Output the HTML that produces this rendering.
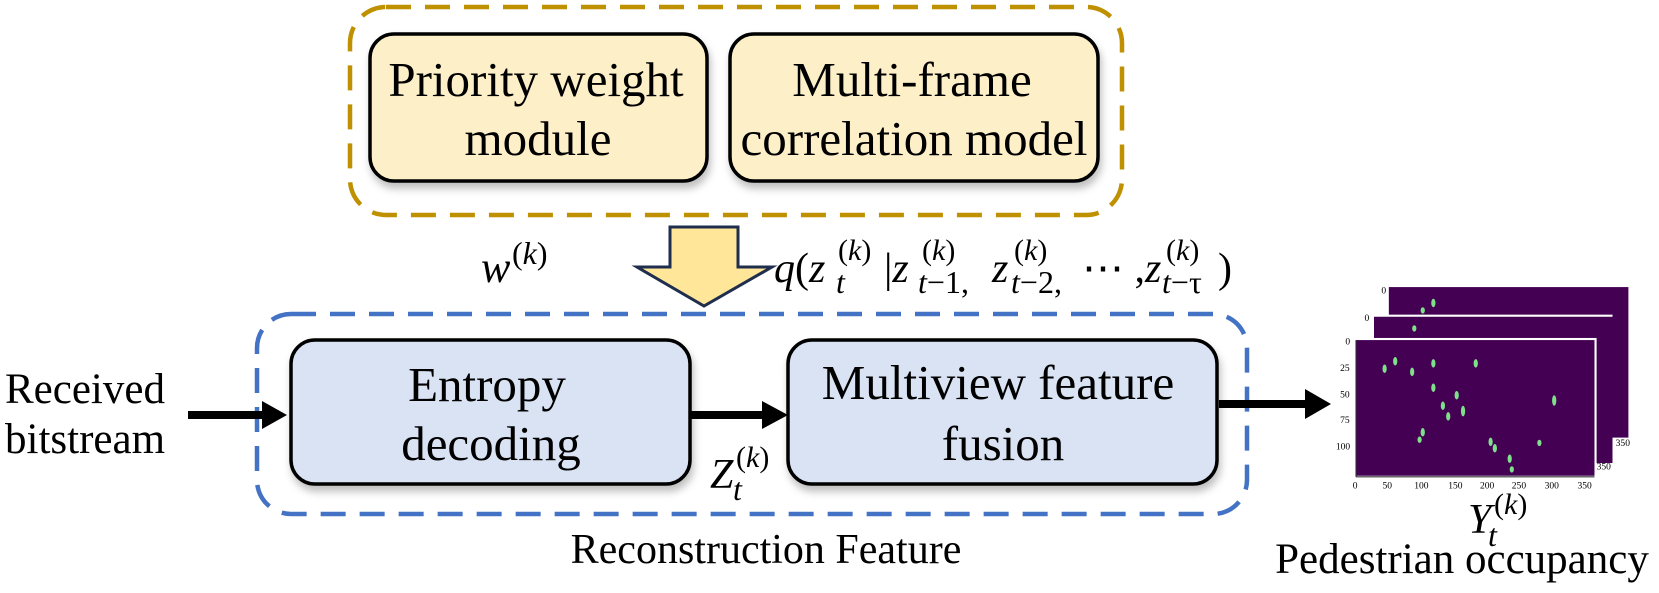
<!DOCTYPE html>
<html><head><meta charset="utf-8"><style>
html,body{margin:0;padding:0;background:#fff;}
svg{display:block;}
text{font-family:"Liberation Serif","Times New Roman",serif;fill:#000;}
</style></head><body>
<svg width="1659" height="593" viewBox="0 0 1659 593" xmlns="http://www.w3.org/2000/svg" font-family="Liberation Serif, serif">
<defs>
<filter id="sh" x="-10%" y="-10%" width="120%" height="130%"><feDropShadow dx="2" dy="6" stdDeviation="4" flood-color="#000" flood-opacity="0.25"/></filter>
</defs>
<rect x="350" y="7" width="772" height="208" rx="36" fill="none" stroke="#bf9000" stroke-width="4.5" stroke-dasharray="25,14"/>
<rect x="370" y="34" width="337" height="147" rx="24" fill="#fdf0c8" stroke="#000" stroke-width="3.5" filter="url(#sh)"/>
<rect x="730" y="34" width="368" height="147" rx="24" fill="#fdf0c8" stroke="#000" stroke-width="3.5" filter="url(#sh)"/>
<text x="536" y="96" font-size="49" text-anchor="middle">Priority weight</text>
<text x="538" y="155" font-size="49" text-anchor="middle">module</text>
<text x="912" y="96" font-size="49" text-anchor="middle">Multi-frame</text>
<text x="914" y="155" font-size="49" text-anchor="middle">correlation model</text>
<polygon points="670,227 738,227 738,267 772,267 704,306 637,267 670,267" fill="#ffe699" stroke="#1f2e4d" stroke-width="3"/>
<text x="481" y="282" font-size="44" font-style="italic">w</text>
<text x="512" y="264" font-size="32">(<tspan font-style="italic">k</tspan>)</text>
<text x="774" y="282" font-size="42"><tspan font-style="italic">q</tspan>(<tspan font-style="italic">z</tspan></text>
<text x="836" y="293" font-size="32" font-style="italic">t</text>
<text x="838" y="260" font-size="30">(<tspan font-style="italic">k</tspan>)</text>
<text x="884" y="282" font-size="42">|<tspan font-style="italic">z</tspan></text>
<text x="918" y="293" font-size="32"><tspan font-style="italic">t</tspan>−1,</text>
<text x="922" y="260" font-size="30">(<tspan font-style="italic">k</tspan>)</text>
<text x="992" y="282" font-size="42" font-style="italic">z</text>
<text x="1011" y="293" font-size="32"><tspan font-style="italic">t</tspan>−2,</text>
<text x="1014" y="260" font-size="30">(<tspan font-style="italic">k</tspan>)</text>
<text x="1082" y="282" font-size="42">⋯ ,<tspan font-style="italic">z</tspan></text>
<text x="1162" y="293" font-size="32"><tspan font-style="italic">t</tspan>−τ</text>
<text x="1166" y="260" font-size="30">(<tspan font-style="italic">k</tspan>)</text>
<text x="1218" y="282" font-size="42">)</text>
<rect x="257" y="314" width="990" height="200" rx="34" fill="none" stroke="#4472c4" stroke-width="4.5" stroke-dasharray="25,14"/>
<rect x="291" y="340" width="399" height="144" rx="24" fill="#dae3f3" stroke="#000" stroke-width="3.5" filter="url(#sh)"/>
<rect x="788" y="340" width="429" height="144" rx="24" fill="#dae3f3" stroke="#000" stroke-width="3.5" filter="url(#sh)"/>
<text x="487" y="401" font-size="49" text-anchor="middle">Entropy</text>
<text x="491" y="460" font-size="49" text-anchor="middle">decoding</text>
<text x="998" y="399" font-size="49" text-anchor="middle">Multiview feature</text>
<text x="1003" y="460" font-size="49" text-anchor="middle">fusion</text>
<line x1="188" y1="415" x2="265" y2="415" stroke="#000" stroke-width="8"/>
<polygon points="262,401 287,415 262,429" fill="#000"/>
<line x1="690" y1="415" x2="765" y2="415" stroke="#000" stroke-width="8"/>
<polygon points="762,401 788,415 762,429" fill="#000"/>
<line x1="1219" y1="404" x2="1308" y2="404" stroke="#000" stroke-width="8"/>
<polygon points="1305,389 1331,404 1305,419" fill="#000"/>
<text x="5" y="403" font-size="43">Received</text>
<text x="5" y="453" font-size="43">bitstream</text>
<text x="710" y="488" font-size="42" font-style="italic">Z</text>
<text x="733" y="500" font-size="32" font-style="italic">t</text>
<text x="736" y="467" font-size="30">(<tspan font-style="italic">k</tspan>)</text>
<text x="766" y="563" font-size="42" text-anchor="middle">Reconstruction Feature</text>
<g transform="translate(-4,3) scale(1.06)">
<rect x="1314" y="268" width="226" height="142" fill="#440154"/>
<rect x="1298" y="294" width="227" height="140" fill="#fff"/>
<rect x="1300" y="296" width="225" height="138" fill="#440154"/>
<rect x="1280" y="316" width="230" height="134" fill="#fff"/>
<rect x="1283" y="318" width="225" height="128" fill="#440154"/>
<line x1="1283" y1="318" x2="1283" y2="447" stroke="#333" stroke-width="1"/>
<line x1="1283" y1="447" x2="1508" y2="447" stroke="#333" stroke-width="1"/>
<g fill="#7fe08a">
<ellipse cx="1356" cy="283" rx="2" ry="4"/><ellipse cx="1346" cy="290" rx="2" ry="3"/>
<ellipse cx="1338" cy="307" rx="2" ry="3"/>
<ellipse cx="1320" cy="338" rx="2" ry="4"/><ellipse cx="1310" cy="345" rx="2" ry="4"/><ellipse cx="1336" cy="348" rx="2" ry="4"/>
<ellipse cx="1356" cy="340" rx="2" ry="4"/><ellipse cx="1396" cy="340" rx="2" ry="4"/><ellipse cx="1356" cy="363" rx="2" ry="4"/>
<ellipse cx="1378" cy="370" rx="2" ry="4"/><ellipse cx="1365" cy="380" rx="2" ry="4"/><ellipse cx="1370" cy="390" rx="2" ry="4"/>
<ellipse cx="1384" cy="385" rx="2" ry="5"/><ellipse cx="1346" cy="405" rx="2" ry="4"/><ellipse cx="1343" cy="412" rx="2" ry="3"/>
<ellipse cx="1470" cy="375" rx="2" ry="5"/><ellipse cx="1410" cy="414" rx="2" ry="4"/><ellipse cx="1414" cy="420" rx="2" ry="4"/>
<ellipse cx="1428" cy="430" rx="2" ry="4"/><ellipse cx="1430" cy="440" rx="2" ry="3"/><ellipse cx="1456" cy="415" rx="2" ry="3"/>
</g>
<g font-size="9" fill="#333">
<text x="1307" y="274">0</text><text x="1291" y="300">0</text><text x="1273" y="322">0</text>
<text x="1268" y="347">25</text><text x="1268" y="372">50</text><text x="1268" y="396">75</text><text x="1264" y="421">100</text>
<text x="1280" y="458">0</text><text x="1308" y="458">50</text><text x="1338" y="458">100</text><text x="1370" y="458">150</text><text x="1400" y="458">200</text><text x="1430" y="458">250</text><text x="1461" y="458">300</text><text x="1492" y="458">350</text>
<text x="1528" y="418">350</text><text x="1510" y="440">350</text>
</g>
</g>
<text x="1468" y="533" font-size="42" font-style="italic">Y</text>
<text x="1488" y="546" font-size="32" font-style="italic">t</text>
<text x="1494" y="514" font-size="30">(<tspan font-style="italic">k</tspan>)</text>
<text x="1462" y="573" font-size="43" text-anchor="middle">Pedestrian occupancy</text>
</svg>
</body></html>
